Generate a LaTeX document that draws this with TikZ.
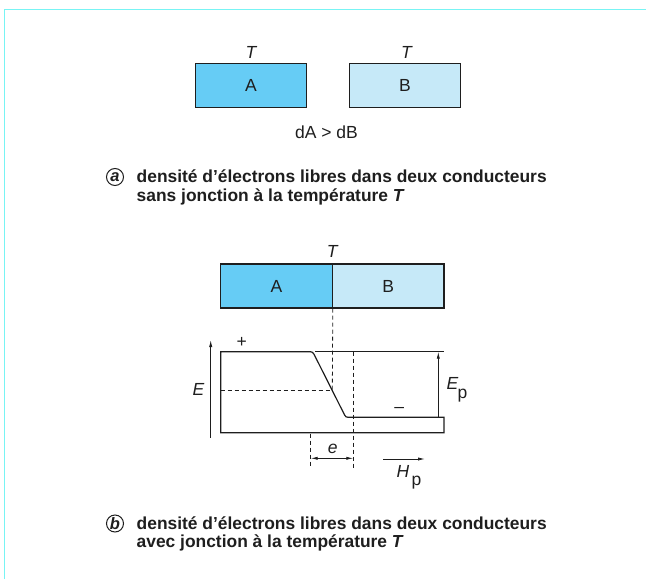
\documentclass[tikz,border=0pt]{standalone}
\usepackage{fontspec}
\setmainfont{Liberation Sans}
\usetikzlibrary{arrows.meta}
\definecolor{framec}{HTML}{78F4F4}
\definecolor{fillA}{HTML}{66CCF5}
\definecolor{fillB}{HTML}{C6E9F8}
\definecolor{ink}{HTML}{1E1E1E}
\tikzset{
  lbl/.style={font=\fontsize{17.5}{20}\selectfont, text=ink, inner sep=0pt},
  captxt/.style={font=\fontsize{17.4}{20}\selectfont\bfseries, text=ink, inner sep=0pt, anchor=base west},
  capletter/.style={circle, draw=ink, line width=1pt, inner sep=0pt, minimum size=17pt, font=\fontsize{16.5}{18}\selectfont\bfseries\itshape, text=ink},
  bar/.style={draw=ink, line width=1.1pt, inner sep=0pt},
  thin/.style={draw=ink, line width=0.8pt},
  prof/.style={draw=ink, line width=1.2pt},
  dsh/.style={draw=ink, line width=0.8pt, dash pattern=on 4pt off 3pt},
  arr/.style={draw=ink, line width=0.8pt, -{Latex[length=7pt,width=3.2pt]}},
  darr/.style={draw=ink, line width=0.8pt, {Latex[length=7pt,width=3.2pt]}-{Latex[length=7pt,width=3.2pt]}}
}
\begin{document}
\begin{tikzpicture}[x=1pt,y=-1pt]
\useasboundingbox (0,0) rectangle (646,579);
% frame
\coordinate (f1) at (4.5,579);
\coordinate (f2) at (4.5,9.5);
\coordinate (f3) at (646,9.5);
\draw[framec, line width=1.6pt] (f1) -- (f2) -- (f3);

% ----- part a
\node[bar, fill=fillA, minimum width=111.5pt, minimum height=44.5pt] (A1) at (251,85.5) {};
\node[bar, fill=fillB, minimum width=111.5pt, minimum height=44.5pt] (B1) at (405,85.5) {};
\node[lbl] (A1t) at (A1.center) {A};
\node[lbl] (B1t) at (B1.center) {B};
\node[lbl] (TA) at (251,52) {\itshape T};
\node[lbl] (TB) at (406.5,52) {\itshape T};
\node[lbl] (dd) at (326.5,132) {dA > dB};

\node[capletter] (ca) at (115,177) {a};
\node[captxt] (ca1) at (136.5,182.5) {densité d’électrons libres dans deux conducteurs};
\node[captxt] (ca2) at (136.5,201) {sans jonction à la température \textit{T}};

% ----- part b
\node[bar, fill=fillA, minimum width=111.5pt, minimum height=44pt] (A2) at (276.5,286) {};
\node[bar, fill=fillB, minimum width=111.5pt, minimum height=44pt] (B2) at (388.2,286) {};
\node[lbl] (A2t) at (A2.center) {A};
\node[lbl] (B2t) at (B2.center) {B};
\node[lbl] (T2) at (332.3,251.5) {\itshape T};

% profile
\coordinate (pBL) at (220.7,432.7);
\coordinate (pTL) at (220.7,351.7);
\coordinate (pTR) at (444,351.7);
\coordinate (pLR) at (444,417.3);
\coordinate (pBR) at (444,432.7);
\coordinate (mid) at (332.3,390);
\draw[prof] (pBL) -- (pTL) -- (307.5,351.7) .. controls (312.7,351.7) .. (315,356.2)
  -- (343.5,412.8) .. controls (345.7,417.3) .. (350.5,417.3) -- (pLR) -- (pBR) -- cycle;
\draw[thin] (315,351.7) -- (pTR);

% dashed lines
\draw[dsh] (A2.south east) -- (mid);
\draw[dsh] (mid -| pTL) -- (mid);
\coordinate (d1t) at (353.3,351.7);
\coordinate (d1b) at (353.3,468);
\coordinate (d2t) at (310.7,433.5);
\coordinate (d2b) at (310.7,468);
\draw[dsh] (d1t) -- (d1b);
\draw[dsh] (d2t) -- (d2b);

% arrows
\coordinate (e1) at (310.7,458.3);
\coordinate (e2) at (353.3,458.3);
\draw[darr] (e1) -- (e2);
\node[lbl] (el) at (332.7,448.5) {\itshape e};

\coordinate (Ea) at (210.7,437.5);
\coordinate (Eb) at (210.7,340);
\draw[arr] (Ea) -- (Eb);
\node[lbl] (El) at (198.5,389.5) {\itshape E};

\coordinate (Epa) at (438.3,417.3);
\coordinate (Epb) at (438.3,351.7);
\draw[arr] (Epa) -- (Epb);
\node[lbl, anchor=west] (Epl) at (446.5,383) {\itshape E};
\node[lbl, anchor=west] (Epp) at (457.5,395.5) {p};

\coordinate (Ha) at (383.3,459);
\coordinate (Hb) at (425,459);
\draw[arr] (Ha) -- (Hb);
\node[lbl] (Hl) at (403,471.5) {\itshape H};
\node[lbl, anchor=west] (Hp) at (411.5,483) {p};

\node[lbl] (plus) at (241.7,342) {+};
\node[lbl] (minus) at (399.3,409.5) {–};

\node[capletter] (cb) at (115,523.5) {b};
\node[captxt] (cb1) at (136.5,529) {densité d’électrons libres dans deux conducteurs};
\node[captxt] (cb2) at (136.5,547.5) {avec jonction à la température \textit{T}};
\end{tikzpicture}
\end{document}
